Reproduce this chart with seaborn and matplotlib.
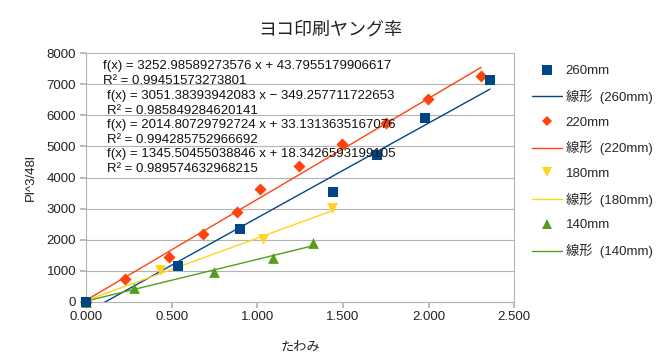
import matplotlib
matplotlib.use("Agg")
import matplotlib.pyplot as plt
import seaborn as sns
import numpy as np
import pandas as pd
from matplotlib.lines import Line2D

sns.set_theme(style="white")
plt.rcParams['font.family'] = ['Liberation Sans', 'Noto Sans CJK JP', 'DejaVu Sans']

title = "ヨコ印刷ヤング率"
xlabel = "たわみ"
ylabel = "Pl^3/48l"

series_names = ["260mm", "220mm", "180mm", "140mm"]
x260 = [0.0, 0.539, 0.899, 1.444, 1.697, 1.979, 2.358]
y260 = [0, 1150, 2351, 3543, 4725, 5907, 7140]
x220 = [0.0, 0.228, 0.486, 0.685, 0.880, 1.016, 1.244, 1.496, 1.751, 1.995, 2.306]
y220 = [0, 721, 1449, 2171, 2879, 3620, 4370, 5089, 5765, 6519, 7269]
x180 = [0.0, 0.432, 1.031, 1.438]
y180 = [0, 1021, 2010, 3027]
x140 = [0.0, 0.280, 0.749, 1.090, 1.327]
y140 = [0, 431, 947, 1398, 1881]

# trendline coefficients (slope, intercept) for each series
slopes = [3051.38393942083, 3252.98589273576, 2014.80729792724, 1345.50455038846]
intercepts = [-349.257711722653, 43.7955179906617, 33.1313635167076, 18.3426593199105]

eq_texts = [
    ("f(x) = 3252.98589273576 x + 43.7955179906617", "R² = 0.99451573273801"),
    ("f(x) = 3051.38393942083 x − 349.257711722653", "R² = 0.985849284620141"),
    ("f(x) = 2014.80729792724 x + 33.1313635167076", "R² = 0.994285752966692"),
    ("f(x) = 1345.50455038846 x + 18.3426593199105", "R² = 0.989574632968215"),
]

colors = ["#004586", "#ff420e", "#ffd320", "#579d1c"]
markers = ["s", "D", "v", "^"]
sizes = [60, 38, 60, 60]
zorders = [6, 5, 5, 5]

xs = [x260, x220, x180, x140]
ys = [y260, y220, y180, y140]

fig = plt.figure(figsize=(6.64, 3.58), dpi=100)
ax = fig.add_axes([86/664, 1-301.7/358, (514.3-86)/664, (301.7-53.3)/358])

handles = []
labels = []
for i in range(4):
    xv = np.array(xs[i]); yv = np.array(ys[i])
    df = pd.DataFrame({"x": xv, "y": yv})
    sns.scatterplot(data=df, x="x", y="y", ax=ax, color=colors[i], marker=markers[i],
                    s=sizes[i], edgecolor=colors[i], linewidth=0, clip_on=False, zorder=zorders[i],
                    legend=False)
    xl = np.array([xv.min(), xv.max()])
    dl = pd.DataFrame({"x": xl, "y": slopes[i]*xl + intercepts[i]})
    sns.lineplot(data=dl, x="x", y="y", ax=ax, color=colors[i], linewidth=1.0, zorder=3,
                 legend=False)
    handles.append(Line2D([], [], linestyle="none", marker=markers[i], color=colors[i],
                          markersize=7 if markers[i] != "D" else 5.5, markeredgewidth=0))
    labels.append(series_names[i])
    handles.append(Line2D([], [], color=colors[i], linewidth=1.0))
    labels.append(f"線形  ({series_names[i]})")

ax.set_xlim(0, 2.5)
ax.set_ylim(0, 8000)
ax.set_xticks(np.arange(0, 2.51, 0.5))
ax.set_xticklabels([f"{v:.3f}" for v in np.arange(0, 2.51, 0.5)])
ax.set_yticks(np.arange(0, 8001, 1000))
ax.set_yticklabels([str(int(v)) for v in np.arange(0, 8001, 1000)])
ax.yaxis.grid(True, color="#b3b3b3", linewidth=0.8)
ax.xaxis.grid(False)
for s in ["top"]:
    ax.spines[s].set_visible(False)
for s in ["left", "bottom", "right"]:
    ax.spines[s].set_color("#b3b3b3")
    ax.spines[s].set_linewidth(0.8)
ax.tick_params(axis="both", which="both", direction="out", length=4, color="#b3b3b3",
               labelsize=9.5, labelcolor="#222222", bottom=True, left=True, pad=3)
ax.set_xlabel(xlabel, fontsize=9.5, labelpad=13, color="#222222")
ax.set_ylabel(ylabel, fontsize=9.5, labelpad=7, color="#222222")
fig.text(330/664, 1-30/358, title, ha="center", va="center", fontsize=13, color="#222222")

eq_pos = [(103, 66), (107, 96), (107, 125), (107, 154)]
for (px, py), (l1, l2) in zip(eq_pos, eq_texts):
    fig.text(px/664, 1-py/358, l1, ha="left", va="center", fontsize=9.5, color="#111111", zorder=10)
    fig.text(px/664, 1-(py+15)/358, l2, ha="left", va="center", fontsize=9.5, color="#111111", zorder=10)

leg = fig.legend(handles, labels, loc="upper left", bbox_to_anchor=(532/664, 1-65/358),
                 frameon=False, fontsize=9.5, handlelength=2.3, labelspacing=0.93,
                 handletextpad=0.25, borderaxespad=0, borderpad=0)
fig.savefig("out.png", dpi=100)
